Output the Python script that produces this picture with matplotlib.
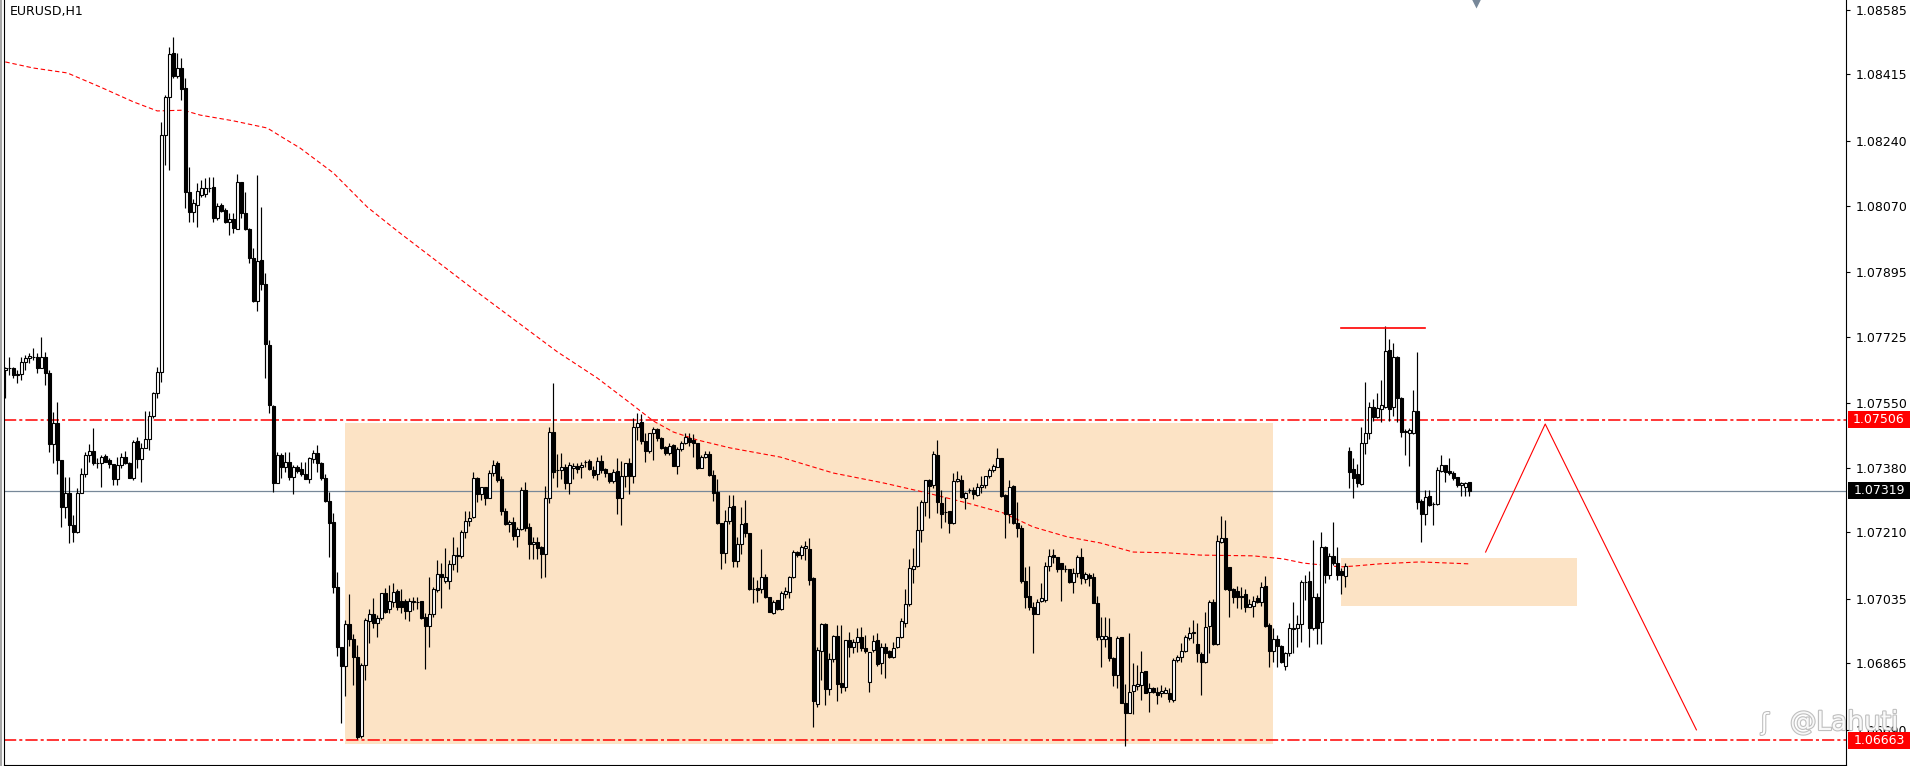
import numpy as np
import matplotlib
matplotlib.use("Agg")
import matplotlib.pyplot as plt
import matplotlib.patheffects as pe
from matplotlib.patches import Rectangle
from matplotlib.lines import Line2D

# EURUSD H1 bars (one bar per hour)
opens = [
    1.07637, 1.07642, 1.07642, 1.07624, 1.07626, 1.07658, 1.07668, 1.07671, 1.07671, 1.07642,
    1.07671, 1.07629, 1.07442, 1.07497, 1.07400, 1.07277, 1.07313, 1.07229, 1.07211, 1.07313,
    1.07363, 1.07413, 1.07424, 1.07392, 1.07392, 1.07410, 1.07400, 1.07390, 1.07350, 1.07387,
    1.07408, 1.07392, 1.07353, 1.07450, 1.07403, 1.07432, 1.07455, 1.07516, 1.07576, 1.07631,
    1.08256, 1.08356, 1.08472, 1.08411, 1.08432, 1.08379, 1.08106, 1.08053, 1.08072, 1.08098,
    1.08101, 1.08117, 1.08119, 1.08038, 1.08072, 1.08059, 1.08027, 1.08035, 1.08008, 1.08132,
    1.08051, 1.08008, 1.07932, 1.07818, 1.07927, 1.07864, 1.07703, 1.07542, 1.07340, 1.07413,
    1.07382, 1.07395, 1.07355, 1.07382, 1.07376, 1.07363, 1.07350, 1.07403, 1.07418, 1.07392,
    1.07353, 1.07292, 1.07237, 1.07066, 1.06908, 1.06858, 1.06969, 1.06929, 1.06882, 1.06674,
    1.06861, 1.06977, 1.06995, 1.06971, 1.06984, 1.07050, 1.07008, 1.07027, 1.07055, 1.07029,
    1.07029, 1.07003, 1.07027, 1.07027, 1.07029, 1.06987, 1.06963, 1.06995, 1.07058, 1.07100,
    1.07082, 1.07082, 1.07127, 1.07148, 1.07148, 1.07211, 1.07240, 1.07250, 1.07353, 1.07311,
    1.07329, 1.07300, 1.07366, 1.07392, 1.07350, 1.07266, 1.07232, 1.07237, 1.07200, 1.07219,
    1.07321, 1.07224, 1.07179, 1.07184, 1.07171, 1.07153, 1.07300, 1.07474, 1.07374, 1.07374,
    1.07382, 1.07340, 1.07379, 1.07384, 1.07382, 1.07395, 1.07397, 1.07374, 1.07363, 1.07397,
    1.07376, 1.07366, 1.07345, 1.07371, 1.07300, 1.07358, 1.07392, 1.07358, 1.07487, 1.07500,
    1.07450, 1.07424, 1.07471, 1.07482, 1.07458, 1.07434, 1.07418, 1.07440, 1.07384, 1.07429,
    1.07445, 1.07458, 1.07453, 1.07445, 1.07379, 1.07408, 1.07416, 1.07361, 1.07316, 1.07234,
    1.07155, 1.07240, 1.07279, 1.07134, 1.07179, 1.07234, 1.07208, 1.07061, 1.07063, 1.07061,
    1.07092, 1.07040, 1.06998, 1.07032, 1.07008, 1.07048, 1.07053, 1.07092, 1.07158, 1.07150,
    1.07169, 1.07166, 1.07090, 1.06758, 1.06898, 1.06969, 1.06798, 1.06877, 1.06937, 1.06813,
    1.06803, 1.06926, 1.06908, 1.06921, 1.06934, 1.06906, 1.06816, 1.06900, 1.06926, 1.06866,
    1.06908, 1.06898, 1.06882, 1.06908, 1.06934, 1.06971, 1.07021, 1.07113, 1.07121, 1.07216,
    1.07290, 1.07347, 1.07334, 1.07413, 1.07287, 1.07263, 1.07266, 1.07234, 1.07345, 1.07347,
    1.07300, 1.07321, 1.07321, 1.07308, 1.07329, 1.07334, 1.07358, 1.07374, 1.07382, 1.07405,
    1.07308, 1.07258, 1.07332, 1.07234, 1.07221, 1.07082, 1.07043, 1.07013, 1.06995, 1.07029,
    1.07032, 1.07121, 1.07150, 1.07145, 1.07129, 1.07113, 1.07113, 1.07079, 1.07103, 1.07145,
    1.07087, 1.07098, 1.07092, 1.07024, 1.06929, 1.06929, 1.06934, 1.06879, 1.06835, 1.06934,
    1.06761, 1.06735, 1.06793, 1.06805, 1.06808, 1.06845, 1.06790, 1.06800, 1.06790, 1.06787,
    1.06787, 1.06787, 1.06769, 1.06874, 1.06882, 1.06898, 1.06932, 1.06945, 1.06916, 1.06890,
    1.06869, 1.06964, 1.07027, 1.06916, 1.07185, 1.07195, 1.07119, 1.07061, 1.07055, 1.07043,
    1.07048, 1.07013, 1.07016, 1.07037, 1.07027, 1.07069, 1.06966, 1.06898, 1.06929, 1.06911,
    1.06858, 1.06893, 1.06956, 1.06958, 1.06969, 1.07079, 1.07082, 1.06958, 1.07040, 1.06974,
    1.07171, 1.07098, 1.07148, 1.07129, 1.07108, 1.07095, 1.07424, 1.07376, 1.07363, 1.07337,
    1.07445, 1.07471, 1.07540, 1.07513, 1.07534, 1.07540, 1.07689, 1.07540, 1.07671, 1.07563,
    1.07474, 1.07471, 1.07471, 1.07529, 1.07292, 1.07258, 1.07305, 1.07284, 1.07284, 1.07371,
    1.07387, 1.07371, 1.07366, 1.07355, 1.07334, 1.07329, 1.07342,
]
highs = [
    1.07645, 1.07671, 1.07645, 1.07637, 1.07671, 1.07676, 1.07681, 1.07695, 1.07681, 1.07724,
    1.07684, 1.07637, 1.07526, 1.07553, 1.07400, 1.07355, 1.07355, 1.07256, 1.07326, 1.07379,
    1.07421, 1.07442, 1.07484, 1.07405, 1.07413, 1.07416, 1.07405, 1.07390, 1.07408, 1.07418,
    1.07424, 1.07395, 1.07453, 1.07461, 1.07445, 1.07529, 1.07529, 1.07579, 1.07645, 1.08290,
    1.08361, 1.08487, 1.08514, 1.08472, 1.08458, 1.08406, 1.08172, 1.08087, 1.08130, 1.08137,
    1.08143, 1.08145, 1.08145, 1.08077, 1.08077, 1.08064, 1.08051, 1.08051, 1.08153, 1.08132,
    1.08106, 1.08011, 1.07959, 1.08151, 1.08067, 1.07893, 1.07716, 1.07545, 1.07421, 1.07418,
    1.07421, 1.07421, 1.07387, 1.07387, 1.07395, 1.07395, 1.07408, 1.07426, 1.07440, 1.07395,
    1.07363, 1.07316, 1.07261, 1.07106, 1.06908, 1.06979, 1.07048, 1.06942, 1.06913, 1.06866,
    1.06984, 1.07008, 1.07037, 1.06992, 1.07050, 1.07063, 1.07071, 1.07077, 1.07061, 1.07061,
    1.07035, 1.07037, 1.07040, 1.07040, 1.07029, 1.06998, 1.07092, 1.07066, 1.07137, 1.07129,
    1.07169, 1.07137, 1.07198, 1.07171, 1.07216, 1.07266, 1.07266, 1.07369, 1.07355, 1.07329,
    1.07329, 1.07374, 1.07400, 1.07397, 1.07358, 1.07274, 1.07242, 1.07250, 1.07224, 1.07329,
    1.07342, 1.07234, 1.07198, 1.07198, 1.07174, 1.07332, 1.07487, 1.07603, 1.07416, 1.07418,
    1.07390, 1.07395, 1.07392, 1.07392, 1.07395, 1.07400, 1.07403, 1.07384, 1.07408, 1.07413,
    1.07379, 1.07366, 1.07376, 1.07405, 1.07397, 1.07392, 1.07405, 1.07511, 1.07524, 1.07521,
    1.07471, 1.07471, 1.07487, 1.07484, 1.07461, 1.07437, 1.07445, 1.07442, 1.07434, 1.07450,
    1.07471, 1.07471, 1.07469, 1.07445, 1.07413, 1.07424, 1.07424, 1.07374, 1.07350, 1.07234,
    1.07269, 1.07308, 1.07308, 1.07198, 1.07277, 1.07295, 1.07208, 1.07092, 1.07084, 1.07166,
    1.07100, 1.07040, 1.07032, 1.07032, 1.07055, 1.07066, 1.07095, 1.07164, 1.07161, 1.07177,
    1.07187, 1.07195, 1.07092, 1.06908, 1.06971, 1.06971, 1.06892, 1.06940, 1.06966, 1.06966,
    1.06926, 1.06948, 1.06929, 1.06958, 1.06961, 1.06940, 1.06895, 1.06940, 1.06945, 1.06918,
    1.06918, 1.06900, 1.06921, 1.06934, 1.06984, 1.07061, 1.07140, 1.07169, 1.07279, 1.07295,
    1.07347, 1.07350, 1.07424, 1.07453, 1.07321, 1.07303, 1.07266, 1.07366, 1.07371, 1.07361,
    1.07316, 1.07326, 1.07329, 1.07340, 1.07358, 1.07358, 1.07379, 1.07390, 1.07432, 1.07405,
    1.07311, 1.07347, 1.07334, 1.07290, 1.07229, 1.07119, 1.07121, 1.07027, 1.07035, 1.07077,
    1.07132, 1.07166, 1.07166, 1.07145, 1.07129, 1.07124, 1.07113, 1.07116, 1.07150, 1.07169,
    1.07106, 1.07103, 1.07103, 1.07043, 1.06987, 1.06987, 1.06984, 1.06882, 1.06937, 1.06934,
    1.06811, 1.06945, 1.06866, 1.06861, 1.06898, 1.06845, 1.06814, 1.06803, 1.06803, 1.06808,
    1.06803, 1.06800, 1.06879, 1.06887, 1.06919, 1.06940, 1.06961, 1.06979, 1.06971, 1.06895,
    1.07000, 1.07032, 1.07035, 1.07203, 1.07253, 1.07242, 1.07119, 1.07063, 1.07069, 1.07066,
    1.07061, 1.07035, 1.07043, 1.07045, 1.07079, 1.07095, 1.06971, 1.06958, 1.06940, 1.06914,
    1.06895, 1.06971, 1.07027, 1.06992, 1.07084, 1.07098, 1.07108, 1.07190, 1.07050, 1.07211,
    1.07174, 1.07156, 1.07237, 1.07171, 1.07116, 1.07129, 1.07434, 1.07405, 1.07390, 1.07487,
    1.07605, 1.07553, 1.07561, 1.07576, 1.07611, 1.07753, 1.07719, 1.07708, 1.07674, 1.07566,
    1.07482, 1.07484, 1.07584, 1.07684, 1.07298, 1.07321, 1.07321, 1.07290, 1.07382, 1.07413,
    1.07387, 1.07405, 1.07371, 1.07355, 1.07342, 1.07342, 1.07342,
]
lows = [
    1.07563, 1.07624, 1.07616, 1.07603, 1.07610, 1.07637, 1.07655, 1.07663, 1.07629, 1.07642,
    1.07597, 1.07421, 1.07392, 1.07363, 1.07224, 1.07248, 1.07182, 1.07184, 1.07208, 1.07313,
    1.07355, 1.07395, 1.07387, 1.07379, 1.07329, 1.07395, 1.07379, 1.07334, 1.07334, 1.07379,
    1.07390, 1.07353, 1.07347, 1.07379, 1.07342, 1.07432, 1.07426, 1.07511, 1.07563, 1.07605,
    1.08177, 1.08164, 1.08406, 1.08406, 1.08348, 1.08064, 1.08027, 1.08027, 1.08014, 1.08093,
    1.08093, 1.08106, 1.08027, 1.08032, 1.08053, 1.08024, 1.07993, 1.07998, 1.08008, 1.08038,
    1.08006, 1.07919, 1.07816, 1.07792, 1.07848, 1.07616, 1.07524, 1.07316, 1.07340, 1.07353,
    1.07369, 1.07347, 1.07311, 1.07366, 1.07358, 1.07350, 1.07340, 1.07392, 1.07369, 1.07347,
    1.07290, 1.07145, 1.07050, 1.06884, 1.06708, 1.06779, 1.06911, 1.06808, 1.06666, 1.06669,
    1.06821, 1.06919, 1.06958, 1.06934, 1.06979, 1.06998, 1.06998, 1.07013, 1.07005, 1.06998,
    1.06982, 1.06977, 1.07005, 1.07008, 1.06982, 1.06850, 1.06908, 1.06987, 1.07053, 1.07011,
    1.07077, 1.07061, 1.07111, 1.07106, 1.07142, 1.07195, 1.07227, 1.07248, 1.07290, 1.07295,
    1.07282, 1.07300, 1.07358, 1.07342, 1.07256, 1.07229, 1.07211, 1.07190, 1.07171, 1.07216,
    1.07213, 1.07140, 1.07140, 1.07140, 1.07090, 1.07092, 1.07287, 1.07353, 1.07329, 1.07350,
    1.07324, 1.07311, 1.07350, 1.07366, 1.07353, 1.07382, 1.07374, 1.07353, 1.07347, 1.07366,
    1.07355, 1.07340, 1.07340, 1.07258, 1.07229, 1.07329, 1.07311, 1.07340, 1.07453, 1.07442,
    1.07395, 1.07418, 1.07400, 1.07450, 1.07429, 1.07413, 1.07413, 1.07384, 1.07363, 1.07424,
    1.07442, 1.07437, 1.07408, 1.07376, 1.07379, 1.07405, 1.07358, 1.07292, 1.07232, 1.07113,
    1.07129, 1.07232, 1.07119, 1.07119, 1.07153, 1.07198, 1.07058, 1.07024, 1.07027, 1.07050,
    1.07037, 1.07000, 1.06995, 1.07005, 1.07005, 1.07037, 1.07037, 1.07090, 1.07145, 1.07140,
    1.07137, 1.07071, 1.06698, 1.06750, 1.06821, 1.06756, 1.06782, 1.06869, 1.06766, 1.06787,
    1.06792, 1.06882, 1.06892, 1.06895, 1.06898, 1.06892, 1.06790, 1.06895, 1.06858, 1.06837,
    1.06827, 1.06879, 1.06879, 1.06906, 1.06932, 1.06961, 1.07016, 1.07077, 1.07119, 1.07184,
    1.07253, 1.07248, 1.07326, 1.07261, 1.07221, 1.07237, 1.07208, 1.07232, 1.07342, 1.07300,
    1.07271, 1.07313, 1.07298, 1.07305, 1.07313, 1.07326, 1.07353, 1.07369, 1.07382, 1.07303,
    1.07195, 1.07234, 1.07232, 1.07198, 1.07077, 1.07011, 1.07005, 1.06892, 1.06995, 1.07027,
    1.07027, 1.07108, 1.07129, 1.07106, 1.07029, 1.07106, 1.07077, 1.07050, 1.07092, 1.07074,
    1.07077, 1.07069, 1.07024, 1.06926, 1.06855, 1.06908, 1.06871, 1.06805, 1.06800, 1.06761,
    1.06648, 1.06735, 1.06732, 1.06795, 1.06769, 1.06787, 1.06737, 1.06787, 1.06758, 1.06777,
    1.06787, 1.06764, 1.06764, 1.06869, 1.06869, 1.06895, 1.06926, 1.06919, 1.06869, 1.06782,
    1.06866, 1.06893, 1.06914, 1.06914, 1.07182, 1.07058, 1.06987, 1.07024, 1.07011, 1.07008,
    1.07000, 1.07013, 1.06987, 1.07024, 1.07016, 1.06961, 1.06855, 1.06869, 1.06856, 1.06866,
    1.06848, 1.06885, 1.06893, 1.06908, 1.06921, 1.07032, 1.06908, 1.06953, 1.06916, 1.06916,
    1.07077, 1.07087, 1.07124, 1.07084, 1.07048, 1.07066, 1.07326, 1.07300, 1.07329, 1.07334,
    1.07416, 1.07455, 1.07503, 1.07511, 1.07500, 1.07537, 1.07503, 1.07516, 1.07500, 1.07461,
    1.07413, 1.07384, 1.07469, 1.07271, 1.07184, 1.07229, 1.07279, 1.07229, 1.07282, 1.07369,
    1.07342, 1.07361, 1.07347, 1.07329, 1.07305, 1.07305, 1.07305,
]
closes = [
    1.07642, 1.07642, 1.07624, 1.07626, 1.07658, 1.07668, 1.07674, 1.07671, 1.07642, 1.07671,
    1.07629, 1.07442, 1.07497, 1.07400, 1.07277, 1.07313, 1.07229, 1.07211, 1.07313, 1.07363,
    1.07413, 1.07424, 1.07392, 1.07392, 1.07408, 1.07395, 1.07390, 1.07350, 1.07387, 1.07408,
    1.07392, 1.07353, 1.07447, 1.07403, 1.07432, 1.07455, 1.07516, 1.07576, 1.07631, 1.08256,
    1.08356, 1.08469, 1.08411, 1.08432, 1.08377, 1.08106, 1.08053, 1.08077, 1.08109, 1.08117,
    1.08117, 1.08117, 1.08038, 1.08069, 1.08056, 1.08027, 1.08035, 1.08011, 1.08132, 1.08051,
    1.08008, 1.07932, 1.07818, 1.07924, 1.07864, 1.07705, 1.07545, 1.07340, 1.07413, 1.07382,
    1.07395, 1.07355, 1.07382, 1.07371, 1.07363, 1.07350, 1.07405, 1.07418, 1.07392, 1.07353,
    1.07292, 1.07234, 1.07066, 1.06908, 1.06858, 1.06969, 1.06929, 1.06882, 1.06672, 1.06861,
    1.06979, 1.06995, 1.06971, 1.06984, 1.07050, 1.07000, 1.07029, 1.07053, 1.07013, 1.07013,
    1.07003, 1.07029, 1.07029, 1.07027, 1.06984, 1.06963, 1.06995, 1.07061, 1.07100, 1.07092,
    1.07092, 1.07127, 1.07150, 1.07150, 1.07211, 1.07240, 1.07248, 1.07353, 1.07311, 1.07329,
    1.07300, 1.07366, 1.07387, 1.07347, 1.07266, 1.07232, 1.07237, 1.07200, 1.07219, 1.07321,
    1.07221, 1.07179, 1.07184, 1.07169, 1.07153, 1.07300, 1.07474, 1.07369, 1.07374, 1.07382,
    1.07340, 1.07387, 1.07384, 1.07376, 1.07387, 1.07395, 1.07376, 1.07361, 1.07397, 1.07374,
    1.07366, 1.07345, 1.07369, 1.07300, 1.07358, 1.07392, 1.07358, 1.07487, 1.07497, 1.07450,
    1.07424, 1.07471, 1.07482, 1.07458, 1.07432, 1.07418, 1.07437, 1.07384, 1.07429, 1.07445,
    1.07461, 1.07447, 1.07445, 1.07379, 1.07408, 1.07416, 1.07361, 1.07313, 1.07234, 1.07155,
    1.07240, 1.07277, 1.07134, 1.07179, 1.07232, 1.07208, 1.07061, 1.07061, 1.07058, 1.07092,
    1.07040, 1.07000, 1.07027, 1.07008, 1.07050, 1.07055, 1.07092, 1.07158, 1.07150, 1.07171,
    1.07174, 1.07084, 1.06766, 1.06900, 1.06969, 1.06798, 1.06877, 1.06937, 1.06811, 1.06803,
    1.06926, 1.06908, 1.06921, 1.06934, 1.06906, 1.06898, 1.06895, 1.06924, 1.06864, 1.06908,
    1.06892, 1.06882, 1.06906, 1.06934, 1.06977, 1.07021, 1.07116, 1.07121, 1.07216, 1.07290,
    1.07347, 1.07332, 1.07416, 1.07290, 1.07258, 1.07263, 1.07234, 1.07345, 1.07350, 1.07303,
    1.07313, 1.07321, 1.07311, 1.07329, 1.07334, 1.07358, 1.07374, 1.07384, 1.07405, 1.07305,
    1.07258, 1.07329, 1.07234, 1.07221, 1.07082, 1.07040, 1.07013, 1.06995, 1.07027, 1.07037,
    1.07121, 1.07148, 1.07145, 1.07113, 1.07113, 1.07113, 1.07079, 1.07103, 1.07145, 1.07090,
    1.07100, 1.07090, 1.07024, 1.06934, 1.06937, 1.06937, 1.06879, 1.06835, 1.06932, 1.06761,
    1.06735, 1.06790, 1.06808, 1.06811, 1.06842, 1.06787, 1.06800, 1.06790, 1.06782, 1.06792,
    1.06795, 1.06771, 1.06874, 1.06882, 1.06898, 1.06934, 1.06945, 1.06948, 1.06893, 1.06869,
    1.06961, 1.07027, 1.06916, 1.07187, 1.07195, 1.07061, 1.07058, 1.07040, 1.07040, 1.07040,
    1.07013, 1.07021, 1.07029, 1.07027, 1.07066, 1.06964, 1.06898, 1.06929, 1.06911, 1.06869,
    1.06893, 1.06958, 1.06958, 1.06969, 1.07079, 1.07079, 1.06958, 1.07040, 1.06958, 1.07171,
    1.07098, 1.07148, 1.07129, 1.07098, 1.07098, 1.07121, 1.07369, 1.07353, 1.07340, 1.07445,
    1.07471, 1.07540, 1.07513, 1.07537, 1.07545, 1.07687, 1.07534, 1.07671, 1.07563, 1.07474,
    1.07476, 1.07479, 1.07529, 1.07290, 1.07258, 1.07303, 1.07282, 1.07284, 1.07374, 1.07387,
    1.07369, 1.07366, 1.07353, 1.07334, 1.07340, 1.07340, 1.07319,
]

# moving average (red dotted), read at a few bar positions
ma_bar = [0, 7, 15.5, 23.75, 32, 38, 44.5, 48.75, 57, 65.5, 69.5, 73.75, 82, 90.5, 98,
          118, 138, 148, 156.25, 162, 167, 173, 181.25, 193.75, 207, 219.5, 229.5, 240.5,
          249.5, 257, 265.5, 273.75, 282, 290.5, 298.75, 312, 319.5, 324.5, 333.75, 337,
          343.75, 353.75, 365.75]
ma_val = [1.08448, 1.08432, 1.08419, 1.08382, 1.08343, 1.08319, 1.08321, 1.08308, 1.08293,
          1.08274, 1.08248, 1.08221, 1.08156, 1.08066, 1.08003, 1.07842, 1.07685, 1.07616,
          1.07550, 1.07503, 1.07474, 1.07453, 1.07432, 1.07408, 1.07366, 1.07340, 1.07316,
          1.07287, 1.07261, 1.07224, 1.07198, 1.07182, 1.07158, 1.07156, 1.07150, 1.07148,
          1.07140, 1.07129, 1.07119, 1.07121, 1.07127, 1.07132, 1.07127]

# price scale labels
tick_prices = [1.08585, 1.08415, 1.08240, 1.08070, 1.07895, 1.07725, 1.07550,
               1.07380, 1.07210, 1.07035, 1.06865, 1.06690]
resistance = 1.07506
support = 1.06663
last_price = 1.07319

# drawn objects (bar index, price)
zone_big = (84.9, 316.9, 1.06653, 1.07498)
zone_small = (333.9, 392.9, 1.07016, 1.07142)
high_mark = (333.9, 354.9, 1.07749)
path_bar = [370.1, 385.0, 422.8]
path_price = [1.07158, 1.07495, 1.06690]

opens = np.array(opens)
highs = np.array(highs)
lows = np.array(lows)
closes = np.array(closes)
# make sure wicks cover the bodies
highs = np.maximum(highs, np.maximum(opens, closes))
lows = np.minimum(lows, np.minimum(opens, closes))
idx = np.arange(len(closes))

W, H = 1917, 766
fig = plt.figure(figsize=(W / 100, H / 100), dpi=100)
ax = fig.add_axes([4 / W, 1 / H, 1842 / W, 765 / H])
ax.set_xlim(-0.33, 460.2)
ax.set_ylim(1.065975, 1.08611)
px = (1.08611 - 1.065975) / 765  # price per pixel

peach = '#FCE3C5'
for x0, x1, y0, y1 in (zone_big, zone_small):
    ax.add_patch(Rectangle((x0, y0), x1 - x0, y1 - y0, facecolor=peach,
                           edgecolor='none', zorder=1))

ax.axhline(resistance, color='red', lw=1.1, ls=(0, (8, 2, 2, 2)), zorder=2)
ax.axhline(support, color='red', lw=1.1, ls=(0, (8, 2, 2, 2)), zorder=2)
ax.axhline(last_price, color='#778899', lw=0.9, zorder=2)

ax.plot(ma_bar, ma_val, color='red', lw=0.8, ls=(0, (4, 2.5)), zorder=2)

# candles
up = closes >= opens
ax.vlines(idx, lows, highs, color='black', lw=0.85, zorder=3)
bottom = np.minimum(opens, closes)
height = np.abs(closes - opens)
ax.bar(idx[up], height[up], bottom=bottom[up], width=0.75, color='white',
       edgecolor='black', linewidth=0.8, zorder=4)
ax.bar(idx[~up], height[~up], bottom=bottom[~up], width=0.75, color='black',
       edgecolor='black', linewidth=0.8, zorder=4)

ax.plot([high_mark[0], high_mark[1]], [high_mark[2], high_mark[2]], color='red', lw=1.2, zorder=5)
ax.plot(path_bar, path_price, color='red', lw=0.8, zorder=5)

# period separator marker at top
ax.plot([367.75], [1.08611], marker='v', ms=12, color='#778899', mec='none',
        clip_on=True, zorder=6)

# axes styling
ax.spines['top'].set_visible(False)
for s in ('left', 'right', 'bottom'):
    ax.spines[s].set_linewidth(0.8)
    ax.spines[s].set_color('black')
ax.set_xticks([])
ax.yaxis.tick_right()
ax.set_yticks(tick_prices)
ax.set_yticklabels([f"{p:.5f}" for p in tick_prices])
ax.tick_params(axis='y', direction='out', length=3, width=0.8, pad=4,
               labelsize=9, colors='black')

# price tags on the scale
tr = ax.get_yaxis_transform()
for price, col in ((resistance, 'red'), (last_price, 'black'), (support, 'red')):
    ax.add_patch(Rectangle((2 / 1842 + 1, price - 8.5 * px), 62 / 1842, 17 * px,
                           transform=tr, facecolor=col, edgecolor='none',
                           clip_on=False, zorder=9))
    ax.text(1 + 33 / 1842, price, f"{price:.5f}", transform=tr, ha='center',
            va='center', fontsize=9, color='white', clip_on=False, zorder=10)

ax.text(0.003, 1 - 12 / 765, "EURUSD,H1", transform=ax.transAxes, ha='left',
        va='center', fontsize=9, color='black')

# watermark
fig.text(1790 / W, 1 - 723 / H, "@Lahuti", ha='left', va='center', fontsize=19,
         color='white', alpha=0.9, zorder=20,
         path_effects=[pe.withStroke(linewidth=1.6, foreground='#b8b8b8')])
fig.text(1765 / W, 1 - 723 / H, "\u0283", ha='center', va='center', fontsize=17,
         color='white', zorder=20,
         path_effects=[pe.withStroke(linewidth=1.4, foreground='#b8b8b8')])

fig.add_artist(Line2D([1 / W, 1 / W], [0, 1], color='#a8a8a8', lw=1.5))

fig.savefig('out.png', dpi=100)
